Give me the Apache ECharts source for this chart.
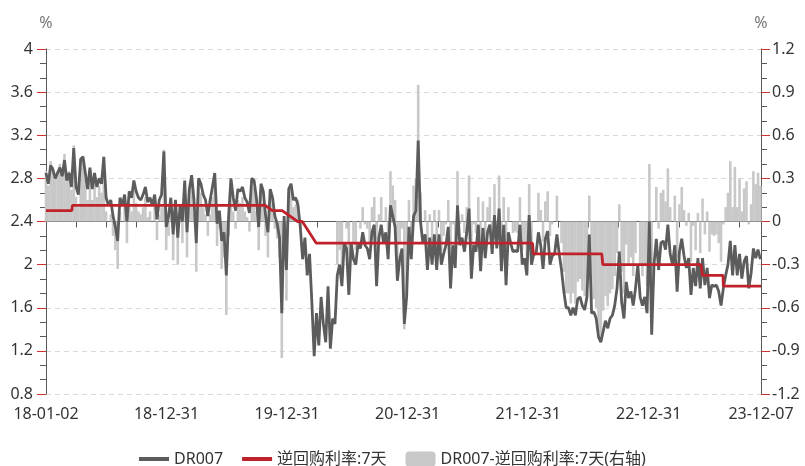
<!DOCTYPE html>
<html><head><meta charset="utf-8">
<script src="https://cdn.jsdelivr.net/npm/echarts@6/dist/echarts.min.js"></script>
<style>html,body{margin:0;padding:0;background:#fff}#chart{width:805px;height:466px}</style>
</head><body><div id="chart"></div>
<script>
// ---- data ----
const startDate = '2018-01-02';
const endDate = '2023-12-07';
const sampleStepDays = 7; // one DR007 reading per week, starting at startDate

const dr007 = [
  2.85, 2.75, 2.92, 2.88, 2.80, 2.85, 2.90, 2.82, 2.97, 2.78,
  2.85, 2.72, 3.08, 2.72, 2.65, 2.98, 3.00, 2.85, 2.70, 2.90,
  2.70, 2.85, 2.72, 2.80, 2.75, 3.00, 2.62, 2.55, 2.60, 2.45,
  2.35, 2.22, 2.62, 2.55, 2.65, 2.40, 2.68, 2.62, 2.78, 2.68,
  2.62, 2.60, 2.65, 2.72, 2.58, 2.62, 2.55, 2.65, 2.42, 2.60,
  2.65, 3.05, 2.35,
  2.45, 2.62, 2.28, 2.60, 2.25, 2.55, 2.40, 2.78, 2.30, 2.70,
  2.83, 2.60, 2.20, 2.80, 2.75, 2.65, 2.60, 2.45, 2.60, 2.72,
  2.85, 2.38, 2.50, 2.22, 2.30, 1.90, 2.45, 2.80, 2.62, 2.50,
  2.70, 2.68, 2.72, 2.62, 2.58, 2.48, 2.80, 2.78, 2.62, 2.35,
  2.75, 2.68, 2.45, 2.30, 2.70, 2.62, 2.45, 2.38, 2.25, 1.55,
  2.45, 1.95,
  2.70, 2.75, 2.60, 2.62, 2.55, 2.35, 2.05, 2.25, 1.90, 2.10,
  1.65, 1.15, 1.55, 1.25, 1.70, 1.45, 1.28, 1.80, 1.22, 1.50,
  1.45, 1.90, 2.00, 1.80, 2.20, 2.15, 1.72, 2.20, 2.05, 2.00,
  2.20, 2.15, 2.30, 2.18, 2.15, 2.05, 2.30, 2.37, 1.80, 2.25,
  2.37, 2.20, 2.30, 2.05, 2.55, 2.45, 2.35, 1.85, 2.05, 2.15,
  1.45, 1.70, 2.35, 2.05, 2.45, 2.50,
  3.15, 2.40, 2.20, 2.28, 1.95, 2.25, 2.00, 2.28, 1.95, 2.28,
  2.00, 2.10, 2.18, 2.35, 1.78, 2.18, 1.97, 2.55, 2.18, 2.25,
  2.12, 2.30, 2.52, 1.87, 2.18, 2.12, 2.37, 1.94, 2.34, 2.06,
  2.30, 2.37, 2.10, 2.46, 2.15, 2.52, 1.94, 2.37, 1.81, 2.30,
  2.20, 2.12, 2.13, 2.12, 2.37, 2.00, 2.06, 1.90, 2.46, 2.00,
  2.10,
  2.10, 2.30, 2.18, 1.96, 2.24, 2.31, 2.00, 2.08, 2.10, 2.28,
  2.10, 1.95, 1.75, 1.60, 1.60, 1.53, 1.60, 1.53, 1.68, 1.70,
  1.62, 1.58, 1.70, 2.28, 1.55, 1.56, 1.50, 1.33, 1.28, 1.38,
  1.48, 1.41, 1.50, 1.53, 1.62, 1.78, 2.12, 1.65, 1.50, 1.84,
  1.69, 1.75, 1.62, 1.78, 2.00, 1.70, 1.62,
  1.70, 1.55, 2.40, 1.35, 2.00, 2.24, 1.95, 2.20, 2.22, 2.14,
  2.37, 2.10, 2.00, 2.18, 1.75, 2.12, 2.24, 2.08, 1.97, 2.06,
  1.72, 1.97, 1.80, 2.06, 1.78, 2.06, 1.81, 1.97, 1.69, 1.81,
  1.80, 1.81, 1.75, 1.62, 1.78, 1.90, 2.00, 2.22, 1.90, 2.18,
  1.90, 2.10, 1.87, 2.03, 2.08, 1.78, 1.92, 2.15, 2.06, 2.14,
  2.05
];

const repoDates = [
  '2018-01-02', '2018-03-21', '2018-03-23', '2019-10-28', '2019-11-18',
  '2019-12-18', '2020-02-03', '2020-02-17', '2020-03-30', '2022-01-14',
  '2022-01-17', '2022-08-12', '2022-08-15', '2023-06-08', '2023-06-13',
  '2023-08-14', '2023-08-15', '2023-12-07'
];
const repoRates = [
  2.50, 2.50, 2.55, 2.55, 2.50,
  2.50, 2.40, 2.40, 2.20, 2.20,
  2.10, 2.10, 2.00, 2.00, 1.90,
  1.90, 1.80, 1.80
];
// periods with no open-market operation (no spread reported)
const noOperationPeriods = [['2020-02-18', '2020-05-28']];

const xTickLabels = ['18-01-02', '18-12-31', '19-12-31', '20-12-31', '21-12-31', '22-12-31', '23-12-07'];
const seriesNames = ['DR007', '逆回购利率:7天', 'DR007-逆回购利率:7天(右轴)'];

// ---- build ----
function dayIndex(s) {
  const a = s.split('-').map(Number), b = startDate.split('-').map(Number);
  return Math.round((Date.UTC(a[0], a[1] - 1, a[2]) - Date.UTC(b[0], b[1] - 1, b[2])) / 86400000);
}
const drData = dr007.map((v, i) => [i * sampleStepDays, v]);
const repoData = repoDates.map((d, i) => [dayIndex(d), repoRates[i]]);
function repoAt(day) {
  let r = repoData[0][1];
  for (const p of repoData) if (p[0] <= day) r = p[1];
  return r;
}
const gaps = noOperationPeriods.map(p => [dayIndex(p[0]), dayIndex(p[1])]);
const spreadData = drData.map(([x, v]) => {
  if (gaps.some(g => x >= g[0] && x <= g[1])) return [x, null];
  return [x, +(v - repoAt(x)).toFixed(3)];
});
const maxDay = dayIndex(endDate);

const FONT = "'Noto Sans', 'Noto Sans CJK SC', sans-serif";
const TXT = '#333';
const AX = '#595959';
const TICKRED = '#d0312d';
const LINE_ICON = 'path://M0,0L30,0L30,4L0,4Z';

const chart = echarts.init(document.getElementById('chart'));
chart.setOption({
  animation: false,
  backgroundColor: '#fff',
  textStyle: { fontFamily: FONT },
  grid: { left: 46, right: 44, top: 49, bottom: 72, containLabel: false },
  legend: {
    left: 134, top: 446,
    itemWidth: 30, itemHeight: 15, itemGap: 19,
    textStyle: { color: TXT, fontSize: 16, fontFamily: FONT },
    data: [
      { name: seriesNames[0], icon: LINE_ICON },
      { name: seriesNames[1], icon: LINE_ICON },
      { name: seriesNames[2], icon: 'roundRect' }
    ]
  },
  xAxis: {
    type: 'value', min: 0, max: maxDay, interval: 365,
    axisLine: { show: true, lineStyle: { color: AX, width: 1 } },
    axisTick: { show: true, length: 9, lineStyle: { color: AX } },
    minorTick: { show: true, splitNumber: 4, length: 6, lineStyle: { color: AX } },
    splitLine: { show: false },
    axisLabel: {
      color: TXT, fontSize: 16, margin: 12, fontFamily: FONT,
      formatter: v => xTickLabels[Math.round(v / 365)]
    }
  },
  yAxis: [
    {
      type: 'value', min: 0.8, max: 4, interval: 0.4, position: 'left',
      name: '%', nameLocation: 'end', nameGap: 18,
      nameTextStyle: { color: '#777', fontSize: 16, fontFamily: FONT },
      axisLine: { show: true, lineStyle: { color: AX } },
      axisTick: { show: true, length: 9, lineStyle: { color: TICKRED } },
      minorTick: { show: true, splitNumber: 3, length: 6, lineStyle: { color: AX } },
      splitLine: { show: true, lineStyle: { color: '#d9d9d9', type: [5, 4] } },
      axisLabel: { color: TXT, fontSize: 16, margin: 13, fontFamily: FONT }
    },
    {
      type: 'value', min: -1.2, max: 1.2, interval: 0.3, position: 'right',
      name: '%', nameLocation: 'end', nameGap: 18,
      nameTextStyle: { color: '#777', fontSize: 16, fontFamily: FONT },
      axisLine: { show: true, lineStyle: { color: AX } },
      axisTick: { show: true, length: 9, lineStyle: { color: TICKRED } },
      minorTick: { show: true, splitNumber: 3, length: 6, lineStyle: { color: AX } },
      splitLine: { show: false },
      axisLabel: { color: TXT, fontSize: 16, margin: 11, fontFamily: FONT }
    }
  ],
  series: [
    {
      name: seriesNames[2], type: 'bar', yAxisIndex: 1,
      data: spreadData, barWidth: 2.6,
      itemStyle: { color: '#c8c8c8' }, z: 1
    },
    {
      name: seriesNames[0], type: 'line', yAxisIndex: 0,
      data: drData, symbol: 'none',
      lineStyle: { color: '#5c5c5c', width: 2.8 }, itemStyle: { color: '#5c5c5c' }, z: 2
    },
    {
      name: seriesNames[1], type: 'line', yAxisIndex: 0,
      data: repoData, symbol: 'none',
      lineStyle: { color: '#c0222b', width: 2.8 }, itemStyle: { color: '#c0222b' }, z: 3
    }
  ]
});
</script>
</body></html>
